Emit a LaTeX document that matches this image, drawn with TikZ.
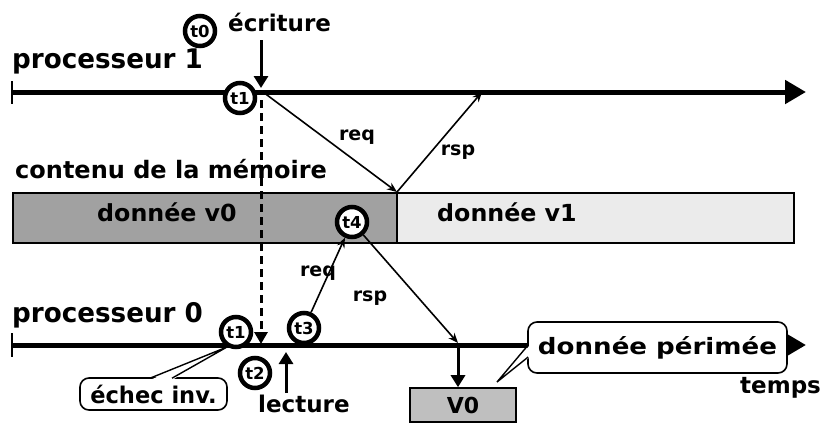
\documentclass[tikz,border=0pt]{standalone}
\usepackage{fontspec}
\setmainfont{DejaVu Sans}
\usetikzlibrary{arrows.meta}
\newcommand\mytx[3]{\fontsize{#1}{#1}\selectfont\bfseries\scalebox{#2}[1]{#3}}
\begin{document}
\begin{tikzpicture}[x=1pt,y=-1pt,
  tcirc/.style={circle, draw, line width=4.5pt, fill=white, minimum size=30pt, inner sep=0pt, font=\fontsize{16.5}{17}\selectfont\bfseries},
  lbl/.style={inner sep=0pt, anchor=base west},
  msg/.style={font=\fontsize{19}{20}\selectfont\bfseries, inner sep=0pt},
  timeline/.style={line width=5pt, -{Triangle[length=21pt,width=23pt]}},
  thin/.style={line width=1.6pt, -{Stealth[length=10pt,width=8pt]}},
  thick/.style={line width=3pt, -{Triangle[length=12pt,width=14pt]}},
  callout/.style={draw, line width=1.6pt, rounded corners=9pt, fill=white, inner sep=0pt}
]
\useasboundingbox (0,0) rectangle (822,424);
% timelines
\coordinate (p1s) at (12,92); \coordinate (p1e) at (806,92);
\coordinate (p0s) at (12,345); \coordinate (p0e) at (806,345);
\draw[timeline] (p1s) -- (p1e);
\draw[line width=2pt] (12,81) -- (12,104);
\draw[timeline] (p0s) -- (p0e);
\draw[line width=2pt] (12,333) -- (12,357);
% labels
\node[lbl] (lp1) at (12,68) {\mytx{27}{0.97}{processeur 1}};
\node[lbl] (lec) at (228,31.5) {\mytx{23}{1}{écriture}};
\node[lbl] (lmem) at (15,178) {\mytx{24}{1}{contenu de la mémoire}};
\node[lbl] (lp0) at (12,322) {\mytx{27}{0.97}{processeur 0}};
\node[lbl] (llec) at (258,412) {\mytx{23}{1}{lecture}};
\node[lbl] (ltemps) at (740,393) {\mytx{23}{1}{temps}};
% memory bar
\node[draw, line width=2pt, fill=black!37, minimum width=384pt, minimum height=50pt, inner sep=0pt, anchor=north west] (v0) at (12,192) {};
\node[draw, line width=2pt, fill=black!8, minimum width=397pt, minimum height=50pt, inner sep=0pt, anchor=north west] (v1) at (396,192) {};
\node[lbl] at (97,221.5) {\mytx{23.5}{1.01}{donnée v0}};
\node[lbl] at (437,221.5) {\mytx{23.5}{1.01}{donnée v1}};
% write arrow
\coordinate (wtop) at (261,40); \coordinate (wbot) at (261,88);
\draw[thick] (wtop) -- (wbot);
% dashed
\coordinate (dtop) at (261,100); \coordinate (dbot) at (261,344);
\draw[line width=3pt, dash pattern=on 8pt off 5pt, -{Triangle[length=12pt,width=13pt]}] (dtop) -- (dbot);
% req / rsp on top
\coordinate (reqs) at (263,92); \coordinate (mem1) at (397,192); \coordinate (rspe) at (482,92);
\draw[thin] (reqs) -- (mem1);
\draw[thin] (mem1) -- (rspe);
\node[msg] at (357,137) {req};
\node[msg] at (458,152) {rsp};
% bottom exchange
\coordinate (rdv) at (458,343);
\node[msg] at (318,273) {req};
\node[msg] at (370,298) {rsp};
% V0 box
\node[draw, line width=1.6pt, fill=black!25, minimum width=106pt, minimum height=34pt, inner sep=0pt] (vbox) at (463,405) {\mytx{22}{1}{V0}};
\coordinate (vtop) at (458,345);
\draw[thick] (vtop) -- (vtop |- vbox.north);
% lecture arrow
\coordinate (ltop) at (286,352); \coordinate (lbot) at (286,393);
\draw[thick] (lbot) -- (ltop);
% circles
\node[tcirc] (t0) at (200,31) {t0};
\node[tcirc] (t1a) at (240,98) {t1};
\node[tcirc] (t4) at (352,222) {t4};
\node[tcirc] (t1b) at (236,332) {t1};
\node[tcirc] (t3) at (304,328) {t3};
\node[tcirc] (t2) at (255,373) {t2};
\draw[thin] (t3) -- (t4);
\draw[thin] (t4) -- (rdv);
% callouts
\node[callout, minimum width=147pt, minimum height=32pt] (ech) at (153.5,394) {\mytx{23}{0.98}{échec inv.}};
\coordinate (echtip) at (227,347);
\fill[white] (150,380) -- (echtip) -- (172,380) -- cycle;
\draw[line width=1.4pt] (150,378.2) -- (echtip) -- (172,378.2);
\node[callout, minimum width=259pt, minimum height=51pt] (per) at (657.5,347.5) {\mytx{22.5}{1.16}{donnée périmée}};
\coordinate (pertip) at (497,382);
\fill[white] (530,345) -- (pertip) -- (530,357) -- cycle;
\draw[line width=1.4pt] (528.2,345) -- (pertip) -- (528.2,357);
\end{tikzpicture}
\end{document}
